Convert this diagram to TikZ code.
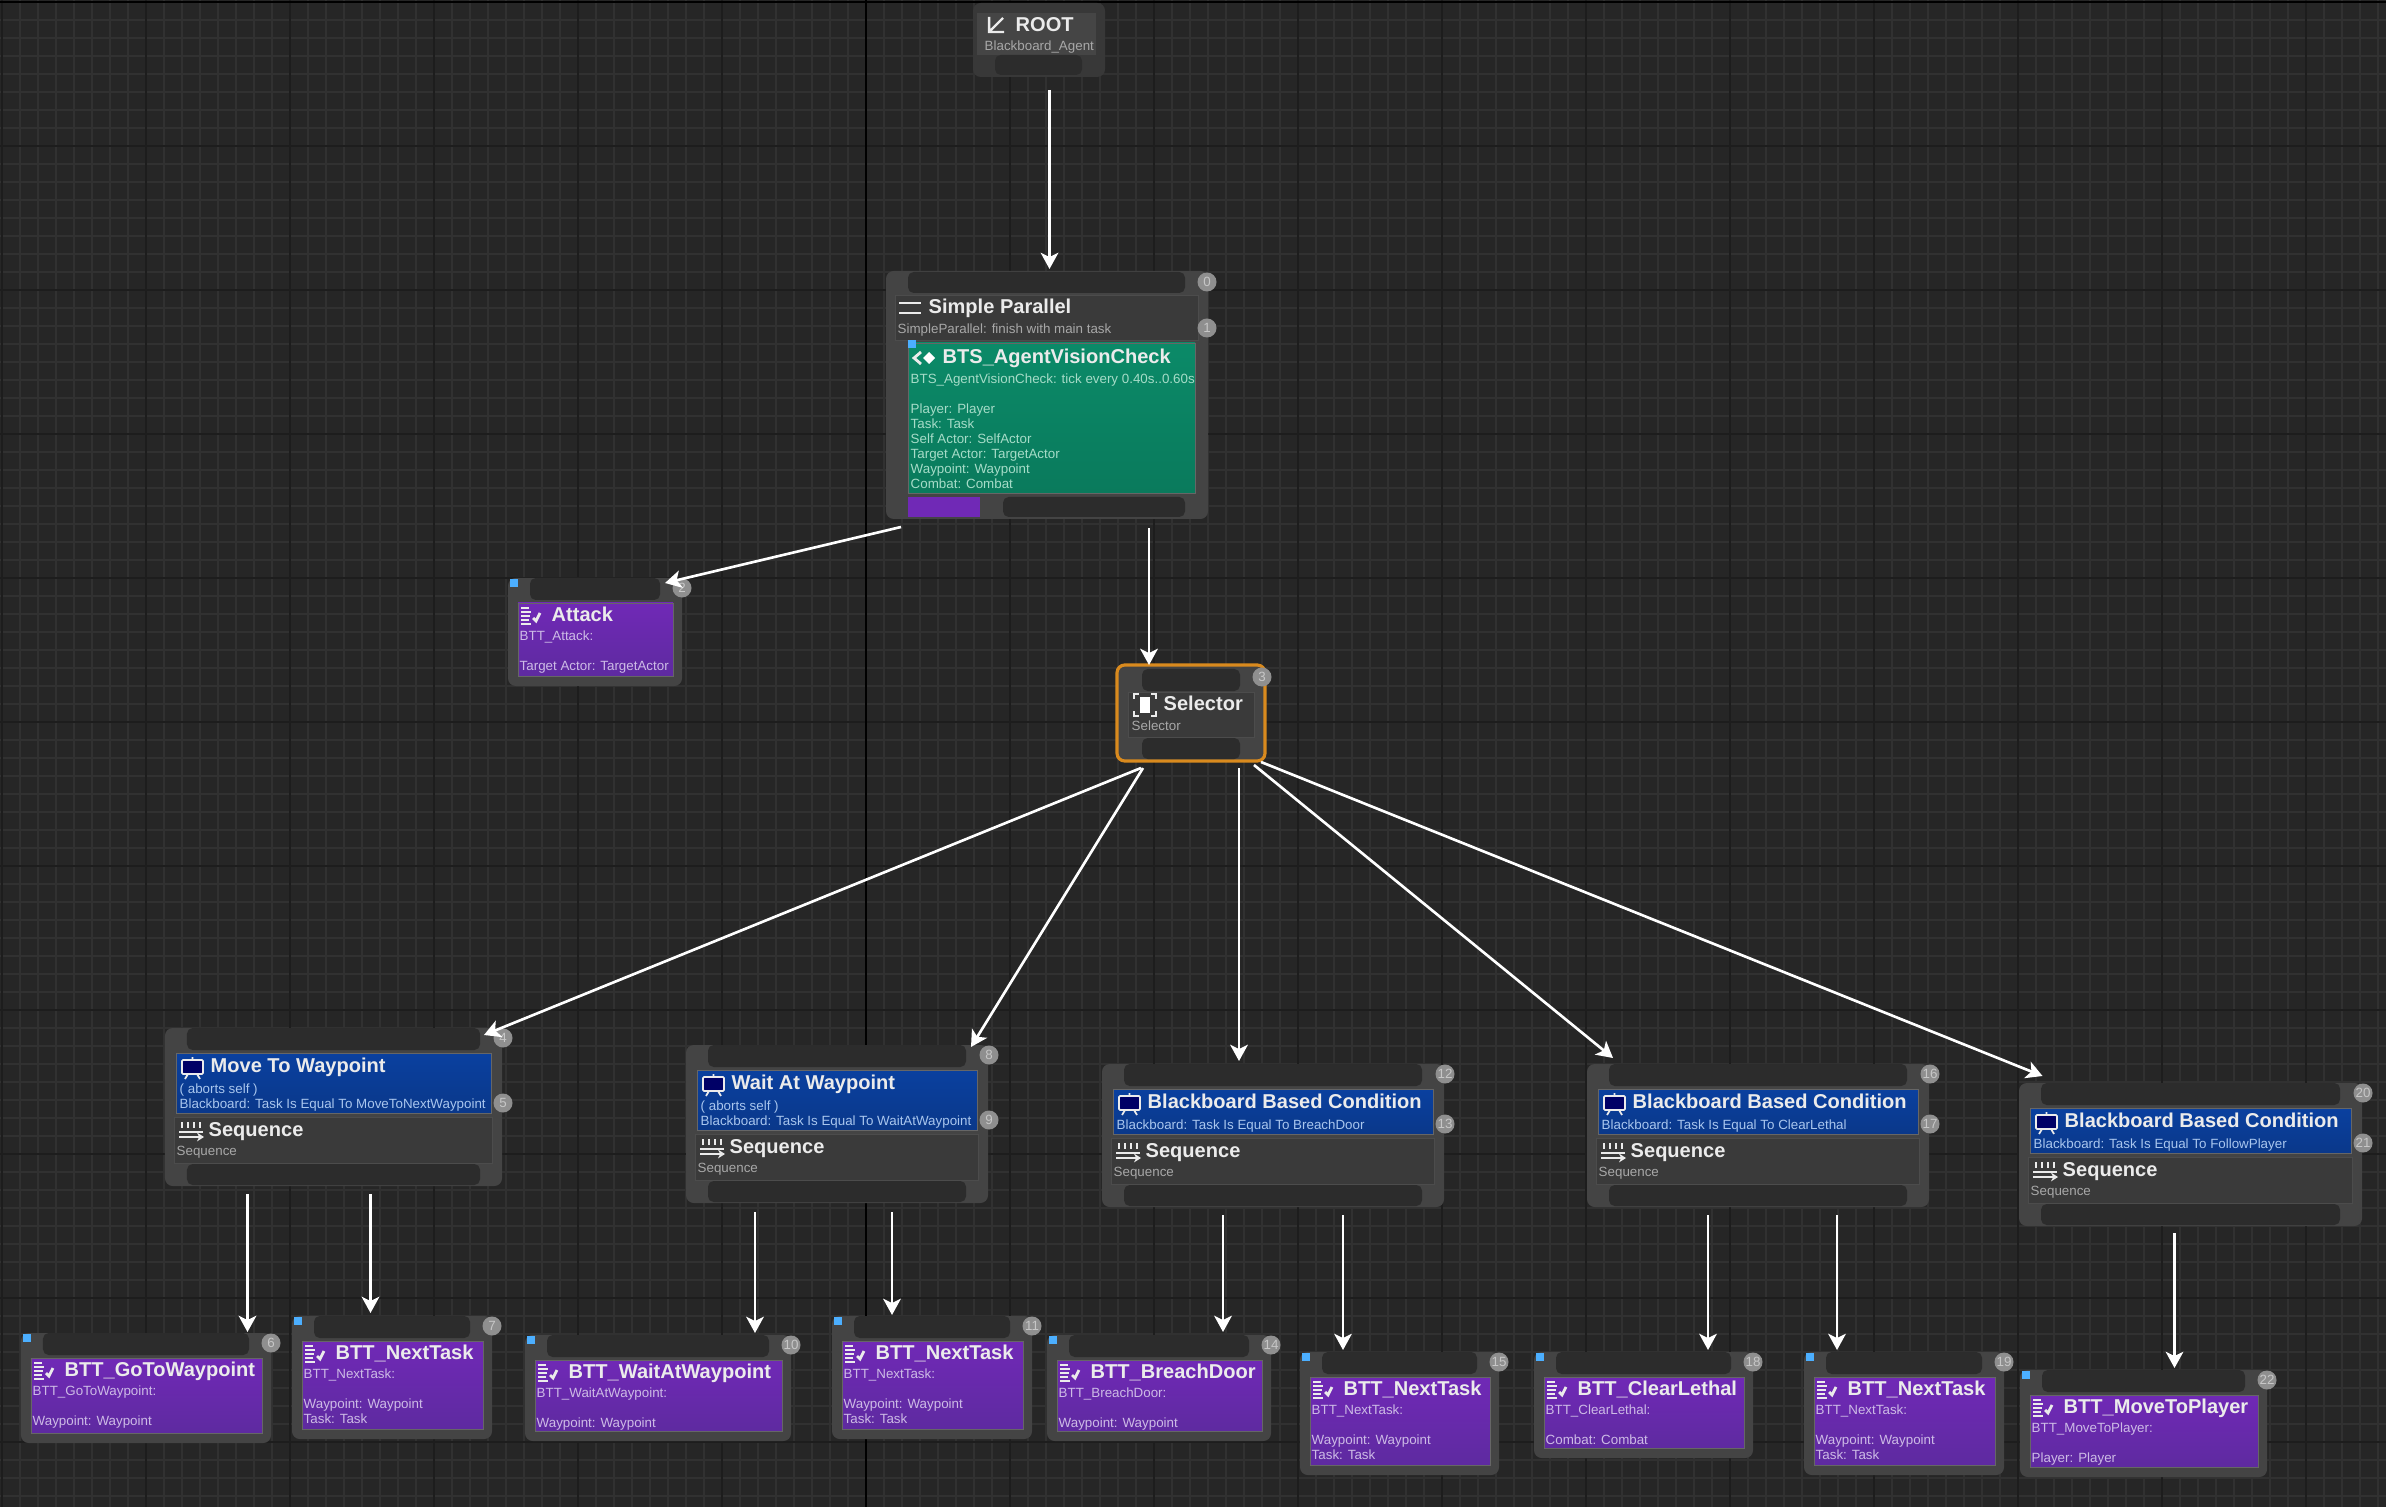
\documentclass[tikz,border=0pt]{standalone}
\usepackage{fontspec}
\setmainfont{Liberation Sans}
\usetikzlibrary{arrows.meta,calc}
\definecolor{bgcol}{HTML}{262626}
\definecolor{minorcol}{HTML}{313131}
\definecolor{majorcol}{HTML}{1D1D1D}
\definecolor{outercol}{HTML}{444444}
\definecolor{graycol}{HTML}{3A3A3A}
\definecolor{slotcol}{HTML}{2C2C2C}
\definecolor{subgray}{HTML}{A8A8A8}
\definecolor{subpurple}{HTML}{CDBBE6}
\definecolor{subgreen}{HTML}{A6DCC8}
\definecolor{subblue}{HTML}{A9C6EE}
\definecolor{purtop}{HTML}{7029B6}
\definecolor{purbot}{HTML}{5E2AA0}
\definecolor{bluetop}{HTML}{0A409F}
\definecolor{bluebot}{HTML}{0A388A}
\definecolor{greentop}{HTML}{0B8A68}
\definecolor{greenbot}{HTML}{0A7A5C}
\definecolor{selcol}{HTML}{D98A1E}
\tikzset{
  outerbox/.style={fill=outercol,rounded corners=2.2pt,inner sep=0pt,outer sep=0pt},
  slotbox/.style={fill=slotcol,rounded corners=1.6pt,inner sep=0pt,outer sep=0pt},
  headbox/.style={fill=graycol,draw=black!70,line width=0.2pt,inner sep=0pt,outer sep=0pt},
  taskbox/.style={top color=purtop,bottom color=purbot,draw=black!60,line width=0.2pt,inner sep=0pt,outer sep=0pt},
  decobox/.style={top color=bluetop,bottom color=bluebot,draw=black!60,line width=0.2pt,inner sep=0pt,outer sep=0pt},
  servicebox/.style={top color=greentop,bottom color=greenbot,draw=black!60,line width=0.2pt,inner sep=0pt,outer sep=0pt},
  title/.style={font=\fontsize{5.7}{7}\selectfont\bfseries,text=white!92!black,anchor=base west,inner sep=0pt,yshift=-0.055cm},
  subline/.style={font=\fontsize{3.8}{4.27}\selectfont,align=left,anchor=north west,inner sep=0pt},
  badge/.style={circle,fill=black!44,inner sep=0pt,minimum size=0.19cm,font=\fontsize{3.8}{4}\selectfont,text=black!22},
  square/.style={fill=blue!45!cyan!70!white,inner sep=0pt,minimum size=0.08cm},
  link/.style={white,line width=0.75pt,-{Stealth[length=4.6pt,width=5pt,inset=1.2pt]}},
  ico/.style={white!92!black,line width=0.5pt},
}
% box given by its corners in pixels
\newcommand{\pxbox}[6]{%
  \pgfmathsetmacro\bw{((#5)-(#3))*0.01}
  \pgfmathsetmacro\bh{((#6)-(#4))*0.01}
  \node[#1,minimum width=\bw cm,minimum height=\bh cm] (#2) at ({((#3)+(#5))/2},{((#4)+(#6))/2}) {};
}
% icons
\newcommand{\icotask}[2]{\begin{scope}[shift={(#1,#2)}]
  \foreach \ly/\lw in {-8/8,-4/10,0/9,4/8,8/10} \draw[ico,line width=0.45pt] (-9,\ly) -- ++(\lw,0);
  \draw[ico,line width=0.8pt] (3,2) -- (6,5) -- (10,-3);
  \end{scope}}
\newcommand{\icoboard}[2]{\begin{scope}[shift={(#1,#2)}]
  \draw[ico,fill=blue!40!black,rounded corners=0.3pt] (-10,-6) rectangle (11,8);
  \draw[ico] (0.5,-6) -- (0.5,-9) (-4,8) -- (-7,13) (5,8) -- (8,13);
  \end{scope}}
\newcommand{\icoseq}[2]{\begin{scope}[shift={(#1,#2)}]
  \foreach \lx in {-9,-3,3,9} \draw[ico,line width=0.7pt] (\lx,-9) -- (\lx,-3);
  \draw[ico,line width=0.7pt] (-12,1) -- (12,1);
  \draw[ico,line width=0.7pt,-{Stealth[length=2pt,width=2.5pt]}] (-12,6) -- (13,6);
  \end{scope}}
% task leaf
\newcommand{\tasknode}[8]{%
  \pxbox{outerbox}{#1}{#2}{#3}{#4}{#5}
  \pxbox{slotbox}{#1-slot}{#2+22}{#3}{#4-22}{#3+22}
  \pxbox{taskbox}{#1-body}{#2+10}{#3+25}{#4-9}{#5-10}
  \node[square] (#1-sq) at ({#2+6},{#3+5}) {};
  \icotask{#2+22}{#3+38}
  \node[title] (#1-title) at ({#2+43},{#3+38}) {#6};
  \node[subline,text=subpurple] (#1-sub) at ({#2+11},{#3+52}) {#7};
  \node[badge] (#1-idx) at ({#4},{#3+10}) {#8};
}
% decorator over sequence
\newcommand{\compnode}[9]{%
  \pgfmathsetmacro\by{#3+25+(#5)}
  \pxbox{outerbox}{#1}{#2}{#3}{#4}{\by+73}
  \pxbox{slotbox}{#1-slot}{#2+22}{#3}{#4-22}{#3+22}
  \pxbox{decobox}{#1-body}{#2+11}{#3+25}{#4-11}{\by}
  \pxbox{headbox}{#1-seq}{#2+9}{\by+4}{#4-10}{\by+50}
  \pxbox{slotbox}{#1-low}{#2+22}{\by+51}{#4-22}{\by+72}
  \icoboard{#2+27}{#3+38}
  \node[title] (#1-title) at ({#2+45},{#3+39}) {#6};
  \node[subline,text=subblue,anchor=south west] (#1-sub) at ({#2+14},{\by-1}) {#7};
  \icoseq{#2+26}{\by+18}
  \node[title] (#1-seqtitle) at ({#2+43},{\by+18}) {Sequence};
  \node[subline,text=subgray] (#1-seqsub) at ({#2+11},{\by+32}) {Sequence};
  \node[badge] (#1-idxa) at ({#4+1},{#3+10}) {#8};
  \node[badge] (#1-idxb) at ({#4+1},{\by-10}) {#9};
}

\begin{document}
\begin{tikzpicture}[x=0.01cm,y=-0.01cm]
  \useasboundingbox (0,0) rectangle (2386,1507);
  %网格
  \fill[bgcol] (0,0) rectangle (2386,1507);
  \foreach \gx in {2,20,...,2386} \draw[minorcol,line width=0.5pt] (\gx,0) -- (\gx,1507);
  \foreach \gy in {2,20,...,1507} \draw[minorcol,line width=0.5pt] (0,\gy) -- (2386,\gy);
  \foreach \gx in {2,146,...,2386} \draw[majorcol,line width=0.5pt] (\gx,0) -- (\gx,1507);
  \foreach \gy in {2,146,...,1507} \draw[majorcol,line width=0.5pt] (0,\gy) -- (2386,\gy);
  \draw[black,line width=0.8pt] (866,0) -- (866,1507) (0,2) -- (2386,2);

  %根节点
  \pxbox{outerbox,fill=black!78}{root}{973}{3}{1105}{77}
  \pxbox{fill=black!73,inner sep=0pt}{root-head}{977}{13}{1096}{55}
  \pxbox{slotbox}{root-low}{995}{55}{1082}{75}
  \begin{scope}[shift={(995,25)}]
    \draw[ico,line width=0.7pt] (-6,-8) -- (-6,7) -- (9,7) (-6,7) -- (8,-7);
  \end{scope}
  \node[title] (root-title) at (1015,26) {ROOT};
  \node[subline,text=subgray] (root-sub) at (984,40) {Blackboard\_Agent};

  %并行节点
  \pxbox{outerbox}{parallel}{886}{271}{1208}{519}
  \pxbox{slotbox}{parallel-slot}{908}{272}{1185}{293}
  \pxbox{headbox}{parallel-head}{895}{295}{1198}{340}
  \pxbox{servicebox}{parallel-service}{908}{343}{1195}{493}
  \pxbox{fill=purtop,inner sep=0pt}{parallel-strip}{908}{497}{980}{517}
  \pxbox{slotbox}{parallel-low}{1003}{497}{1185}{517}
  \node[square] (parallel-sq) at (912,344) {};
  \draw[ico,line width=0.7pt] (899,303) -- (921,303) (899,313) -- (921,313);
  \node[title] (parallel-title) at (928,308) {Simple Parallel};
  \node[subline,text=subgray] (parallel-sub) at (897,323) {SimpleParallel: finish with main task};
  \draw[ico,line width=0.8pt] (921,352) -- (914,358) -- (921,364);
  \fill[white] (923,358) -- (929,352) -- (935,358) -- (929,364) -- cycle;
  \node[title] (parallel-stitle) at (942,358) {BTS\_AgentVisionCheck};
  \node[subline,text=subgreen] (parallel-ssub) at (910,373) {BTS\_AgentVisionCheck: tick every 0.40s..0.60s\\[4.27pt]Player: Player\\Task: Task\\Self Actor: SelfActor\\Target Actor: TargetActor\\Waypoint: Waypoint\\Combat: Combat};
  \node[badge] (parallel-idxa) at (1207,282) {0};
  \node[badge] (parallel-idxb) at (1207,328) {1};

  %选择节点
  \pxbox{outerbox,draw=selcol,line width=0.9pt}{selector}{1117}{665}{1265}{761}
  \pxbox{slotbox}{selector-slot}{1142}{669}{1240}{691}
  \pxbox{headbox}{selector-head}{1128}{692}{1254}{737}
  \pxbox{slotbox}{selector-low}{1142}{738}{1240}{759}
  \begin{scope}[shift={(1145,705)}]
    \fill[white] (-5,-8) rectangle (5,8);
    \draw[ico,line width=0.6pt] (-11,-6) -- (-11,-11) -- (-6,-11) (6,-11) -- (11,-11) -- (11,-6) (11,6) -- (11,11) -- (6,11) (-6,11) -- (-11,11) -- (-11,6);
  \end{scope}
  \node[title] (selector-title) at (1163,705) {Selector};
  \node[subline,text=subgray] (selector-sub) at (1131,720) {Selector};
  \node[badge] (selector-idx) at (1262,677) {3};

  %任务节点
  \tasknode{attack}{508}{578}{682}{686}{Attack}{BTT\_Attack:\\[4.27pt]Target Actor: TargetActor}{2}
  \tasknode{gotowp}{21}{1333}{271}{1443}{BTT\_GoToWaypoint}{BTT\_GoToWaypoint:\\[4.27pt]Waypoint: Waypoint}{6}
  \tasknode{nexta}{292}{1316}{492}{1439}{BTT\_NextTask}{BTT\_NextTask:\\[4.27pt]Waypoint: Waypoint\\Task: Task}{7}
  \tasknode{waitwp}{525}{1335}{791}{1441}{BTT\_WaitAtWaypoint}{BTT\_WaitAtWaypoint:\\[4.27pt]Waypoint: Waypoint}{10}
  \tasknode{nextb}{832}{1316}{1032}{1439}{BTT\_NextTask}{BTT\_NextTask:\\[4.27pt]Waypoint: Waypoint\\Task: Task}{11}
  \tasknode{breach}{1047}{1335}{1271}{1441}{BTT\_BreachDoor}{BTT\_BreachDoor:\\[4.27pt]Waypoint: Waypoint}{14}
  \tasknode{nextc}{1300}{1352}{1499}{1475}{BTT\_NextTask}{BTT\_NextTask:\\[4.27pt]Waypoint: Waypoint\\Task: Task}{15}
  \tasknode{clear}{1534}{1352}{1753}{1458}{BTT\_ClearLethal}{BTT\_ClearLethal:\\[4.27pt]Combat: Combat}{18}
  \tasknode{nextd}{1804}{1352}{2004}{1475}{BTT\_NextTask}{BTT\_NextTask:\\[4.27pt]Waypoint: Waypoint\\Task: Task}{19}
  \tasknode{moveplayer}{2020}{1370}{2267}{1477}{BTT\_MoveToPlayer}{BTT\_MoveToPlayer:\\[4.27pt]Player: Player}{22}

  %组合节点
  \compnode{movewp}{165}{1028}{502}{60}{Move To Waypoint}{( aborts self )\\Blackboard: Task Is Equal To MoveToNextWaypoint}{4}{5}
  \compnode{waitat}{686}{1045}{988}{60}{Wait At Waypoint}{( aborts self )\\Blackboard: Task Is Equal To WaitAtWaypoint}{8}{9}
  \compnode{bbbreach}{1102}{1064}{1444}{45}{Blackboard Based Condition}{Blackboard: Task Is Equal To BreachDoor}{12}{13}
  \compnode{bbclear}{1587}{1064}{1929}{45}{Blackboard Based Condition}{Blackboard: Task Is Equal To ClearLethal}{16}{17}
  \compnode{bbplayer}{2019}{1083}{2362}{45}{Blackboard Based Condition}{Blackboard: Task Is Equal To FollowPlayer}{20}{21}

  %连线
  \draw[link] ($(root.south)+(10.5,13)$) -- ($(parallel.north)+(2.5,-2)$);
  \draw[link] ($(parallel.south west)+(15,8)$) -- ($(attack.north east)+(-17,5)$);
  \draw[link] ($(parallel.south)+(102,9)$) -- ($(selector.north)+(-42,0)$);
  \draw[link] ($(selector.south west)+(24,7)$) -- ($(movewp.north east)+(-18,7)$);
  \draw[link] ($(selector.south west)+(26,7)$) -- ($(waitat.north east)+(-17,2)$);
  \draw[link] ($(selector.south)+(48,7)$) -- ($(bbbreach.north)+(-34,-3)$);
  \draw[link] ($(selector.south)+(63,4)$) -- ($(bbclear.north)+(-145,-6)$);
  \draw[link] ($(selector.south east)+(-4,1)$) -- ($(bbplayer.north)+(-148,-7)$);
  \draw[link] ($(movewp.south)+(-86,8)$) -- ($(gotowp.north)+(101.5,-1)$);
  \draw[link] ($(movewp.south)+(37,8)$) -- ($(nexta.north)+(-21.5,-3)$);
  \draw[link] ($(waitat.south)+(-82,9)$) -- ($(waitwp.north)+(97,-2)$);
  \draw[link] ($(waitat.south)+(55,9)$) -- ($(nextb.north)+(-40,-1)$);
  \draw[link] ($(bbbreach.south)+(-50,8)$) -- ($(breach.north)+(64,-3)$);
  \draw[link] ($(bbbreach.south)+(70,8)$) -- ($(nextc.north)+(-56.5,-2)$);
  \draw[link] ($(bbclear.south)+(-50,8)$) -- ($(clear.north)+(64.5,-2)$);
  \draw[link] ($(bbclear.south)+(79,8)$) -- ($(nextd.north)+(-67,-2)$);
  \draw[link] ($(bbplayer.south)+(-16,7)$) -- ($(moveplayer.north)+(31,-2)$);
\end{tikzpicture}
\end{document}
